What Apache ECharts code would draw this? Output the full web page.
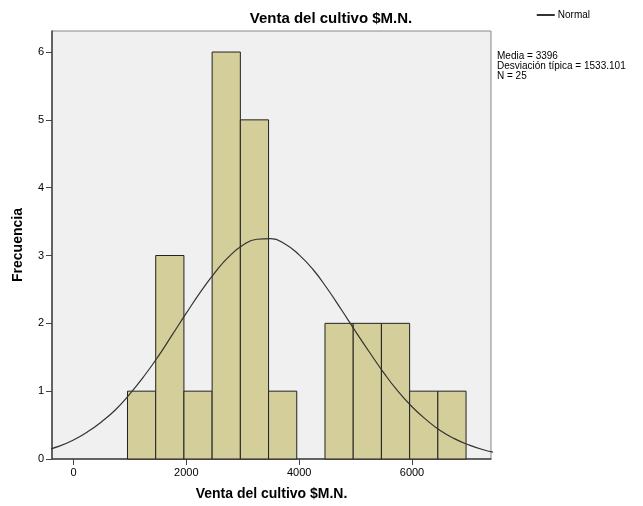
<!DOCTYPE html>
<html>
<head>
<meta charset="utf-8">
<script src="https://cdn.jsdelivr.net/npm/echarts@6/dist/echarts.min.js"></script>
<style>
  html, body { margin: 0; padding: 0; background: #fff; }
  #histChart { width: 643px; height: 506px; }
</style>
</head>
<body>
<div id="histChart"></div>
<script>
  // intervalos del histograma (inicio, fin) y frecuencias
  const binStart = [958, 1458, 1958, 2458, 2958, 3458, 3958, 4458, 4958, 5458, 5958, 6458];
  const binEnd   = [1458, 1958, 2458, 2958, 3458, 3958, 4458, 4958, 5458, 5958, 6458, 6958];
  const frecuencia = [1, 3, 1, 6, 5, 1, 0, 2, 2, 2, 1, 1];

  // curva normal
  const curvaX = [-500, -250, 0, 250, 500, 750, 1000, 1250, 1500, 1750, 2000, 2250, 2500, 2750,
    3000, 3250, 3500, 3750, 4000, 4250, 4500, 4750, 5000, 5250, 5500, 5750, 6000, 6250,
    6500, 6750, 7000, 7250, 7500];
  const curvaY = [0.13, 0.19, 0.28, 0.40, 0.55, 0.73, 0.96, 1.22, 1.51, 1.83, 2.15, 2.46, 2.74, 2.98,
    3.15, 3.24, 3.25, 3.17, 3.01, 2.79, 2.51, 2.20, 1.88, 1.57, 1.27, 1.00, 0.77, 0.58,
    0.42, 0.30, 0.21, 0.14, 0.09];

  const xTicks = [0, 2000, 4000, 6000];
  const statsLines = ['Media = 3396', 'Desviación típica = 1533.101', 'N = 25'];

  let chart = echarts.init(document.getElementById('histChart'));
  let font = 'Liberation Sans, Arial, sans-serif';

  let barData = binStart.map((s, i) => [s, binEnd[i], frecuencia[i]]);
  let lineData = curvaX.map((x, i) => [x, curvaY[i]]);

  let option = {
    animation: false,
    backgroundColor: '#ffffff',
    title: {
      text: 'Venta del cultivo $M.N.',
      left: 326,
      top: 6,
      textAlign: 'center',
      textStyle: { fontFamily: font, fontSize: 15, fontWeight: 'bold', color: '#000' }
    },
    legend: {
      show: true,
      right: 48,
      top: 5,
      itemWidth: 18,
      itemHeight: 2,
      itemGap: 4,
      icon: 'rect',
      data: [{ name: 'Normal', icon: 'rect' }],
      textStyle: { fontFamily: font, fontSize: 10, color: '#000', padding: [0, 0, 0, -2] }
    },
    grid: {
      left: 52,
      top: 31,
      right: 152,
      bottom: 47,
      show: true,
      backgroundColor: '#f0f0f0',
      borderColor: '#888',
      borderWidth: 1
    },
    xAxis: {
      type: 'value',
      min: -380,
      max: 7400,
      name: 'Venta del cultivo $M.N.',
      nameLocation: 'middle',
      nameGap: 28,
      nameTextStyle: { fontFamily: font, fontSize: 14, fontWeight: 'bold', color: '#000' },
      axisLine: { onZero: false, lineStyle: { color: '#444', width: 1.5 } },
      axisTick: { show: true, length: 6, customValues: xTicks, lineStyle: { color: '#444' } },
      axisLabel: {
        fontFamily: font, fontSize: 11, color: '#000',
        customValues: xTicks,
        formatter: v => String(v)
      },
      splitLine: { show: false }
    },
    yAxis: {
      type: 'value',
      min: 0,
      max: 6.31,
      interval: 1,
      name: 'Frecuencia',
      nameLocation: 'middle',
      nameGap: 27,
      nameTextStyle: { fontFamily: font, fontSize: 14, fontWeight: 'bold', color: '#000' },
      axisLine: { show: true, onZero: false, lineStyle: { color: '#444', width: 1.5 } },
      axisTick: { show: true, length: 6, lineStyle: { color: '#444' } },
      axisLabel: {
        fontFamily: font, fontSize: 11, color: '#000', margin: 8,
        showMaxLabel: false
      },
      splitLine: { show: false }
    },
    series: [{
      name: 'Frecuencia',
      type: 'custom',
      data: barData,
      encode: { x: [0, 1], y: 2 },
      renderItem: function (params, api) {
        if (api.value(2) === 0) return null;
        let start = api.coord([api.value(0), api.value(2)]);
        let end = api.coord([api.value(1), 0]);
        return {
          type: 'rect',
          shape: { x: start[0], y: start[1], width: end[0] - start[0], height: end[1] - start[1] },
          style: { fill: '#d3ce9a', stroke: '#222', lineWidth: 1 }
        };
      },
      z: 2
    }, {
      name: 'Normal',
      type: 'line',
      data: lineData,
      smooth: true,
      showSymbol: false,
      clip: true,
      lineStyle: { color: '#333', width: 1.2 },
      itemStyle: { color: '#333' },
      z: 3
    }],
    graphic: [{
      type: 'text',
      left: 497,
      top: 51,
      style: {
        text: statsLines.join('\n'),
        fontFamily: font,
        fontSize: 10,
        lineHeight: 10,
        fill: '#000'
      }
    }]
  };
  chart.setOption(option);
</script>
</body>
</html>
